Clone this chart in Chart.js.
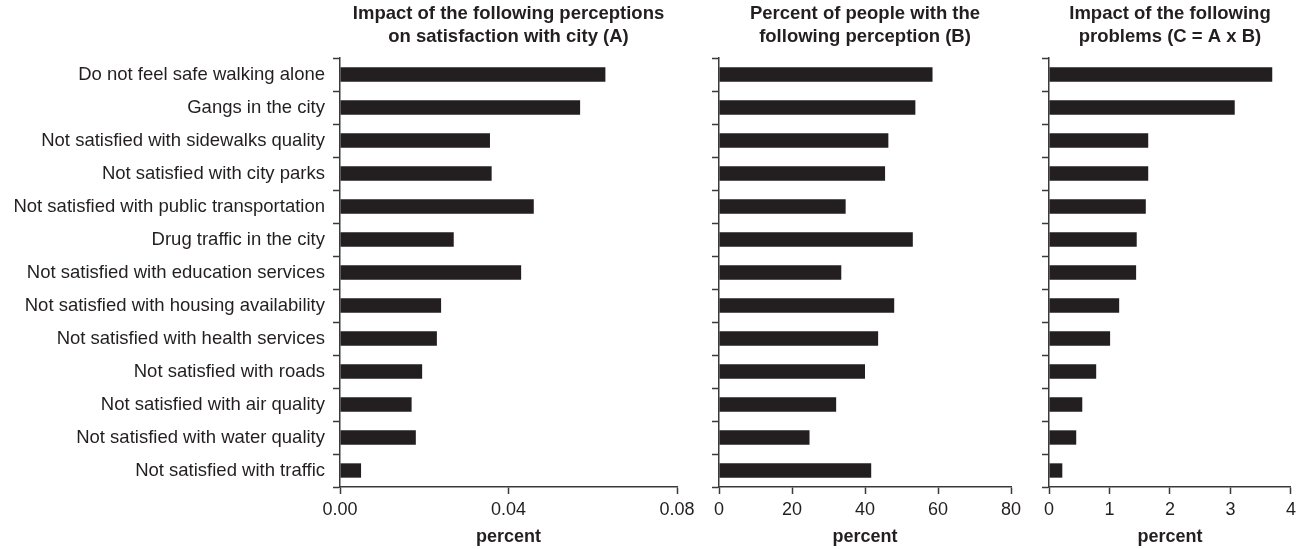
<!DOCTYPE html>
<html>
<head>
<meta charset="utf-8">
<script src="https://cdn.jsdelivr.net/npm/chart.js@4"></script>
<style>
  body { margin: 0; background: #fff; }
  #wrap { position: relative; width: 1301px; height: 549px; }
  canvas { position: absolute; top: 0; }
</style>
</head>
<body>
<div id="wrap">
  <canvas id="chA" width="700" height="549" style="left:0px"></canvas>
  <canvas id="chB" width="330" height="549" style="left:700px"></canvas>
  <canvas id="chC" width="271" height="549" style="left:1030px"></canvas>
</div>
<script>
var categories = [
    "Do not feel safe walking alone",
    "Gangs in the city",
    "Not satisfied with sidewalks quality",
    "Not satisfied with city parks",
    "Not satisfied with public transportation",
    "Drug traffic in the city",
    "Not satisfied with education services",
    "Not satisfied with housing availability",
    "Not satisfied with health services",
    "Not satisfied with roads",
    "Not satisfied with air quality",
    "Not satisfied with water quality",
    "Not satisfied with traffic"
];
// (A) impact on satisfaction with city
var impactA = [0.063, 0.057, 0.0356, 0.036, 0.046, 0.027, 0.043, 0.024, 0.023, 0.0195, 0.017, 0.018, 0.005];
// (B) percent of people with the perception
var percentB = [58.5, 53.8, 46.4, 45.5, 34.7, 53.1, 33.5, 48.0, 43.6, 40.0, 32.1, 24.8, 41.7];
// (C) = A x B
var impactC = [3.69, 3.07, 1.64, 1.64, 1.60, 1.45, 1.44, 1.16, 1.01, 0.78, 0.55, 0.45, 0.22];

var titleA = ["Impact of the following perceptions", "on satisfaction with city (A)"];
var titleB = ["Percent of people with the", "following perception (B)"];
var titleC = ["Impact of the following", "problems (C = A x B)"];
var axisTitle = "percent";

var ink = "#231f20";
var axisCol = "#3a3a3a";
var fam = "'Liberation Sans', Arial, Helvetica, sans-serif";

function makePanel(id, values, title, xmax, xstep, xdec, yWidth, showLabels, padRight) {
    var ctx = document.getElementById(id).getContext('2d');
    return new Chart(ctx, {
        type: 'bar',
        data: {
            labels: categories,
            datasets: [{
                data: values,
                backgroundColor: ink,
                borderWidth: 0,
                categoryPercentage: 1,
                barPercentage: 0.435
            }]
        },
        options: {
            indexAxis: 'y',
            responsive: false,
            animation: false,
            devicePixelRatio: 1,
            layout: { padding: { left: 0, right: padRight, top: 0, bottom: 0 } },
            plugins: {
                legend: { display: false },
                tooltip: { enabled: false },
                title: {
                    display: true,
                    text: title,
                    fullSize: false,
                    color: ink,
                    font: { family: fam, size: 18.5, weight: 'bold', lineHeight: 1.22 },
                    padding: { top: 3, bottom: 9.9 }
                }
            },
            scales: {
                y: {
                    type: 'category',
                    offset: true,
                    grid: {
                        offset: true,
                        drawOnChartArea: false,
                        drawTicks: true,
                        tickLength: 7,
                        tickWidth: 1.5,
                        tickColor: axisCol
                    },
                    border: { display: true, color: axisCol, width: 1.5 },
                    ticks: {
                        display: showLabels,
                        color: ink,
                        padding: 8,
                        font: { family: fam, size: 18.5 }
                    },
                    afterFit: function (s) { s.width = yWidth; }
                },
                x: {
                    type: 'linear',
                    min: 0,
                    max: xmax,
                    grid: {
                        drawOnChartArea: false,
                        drawTicks: true,
                        tickLength: 7,
                        tickWidth: 1.5,
                        tickColor: axisCol
                    },
                    border: { display: true, color: axisCol, width: 1.5 },
                    ticks: {
                        stepSize: xstep,
                        color: ink,
                        padding: 5,
                        maxRotation: 0,
                        font: { family: fam, size: 18 },
                        callback: function (v) { return Number(v).toFixed(xdec); }
                    },
                    title: {
                        display: true,
                        text: axisTitle,
                        color: ink,
                        font: { family: fam, size: 18, weight: 'bold' },
                        padding: { top: 1.1, bottom: 0.7 }
                    }
                }
            }
        }
    });
}

makePanel("chA", impactA, titleA, 0.08, 0.04, 2, 340, true, 23);
makePanel("chB", percentB, titleB, 80, 20, 0, 19, false, 19);
makePanel("chC", impactC, titleC, 4, 1, 0, 19, false, 10);
</script>
</body>
</html>
